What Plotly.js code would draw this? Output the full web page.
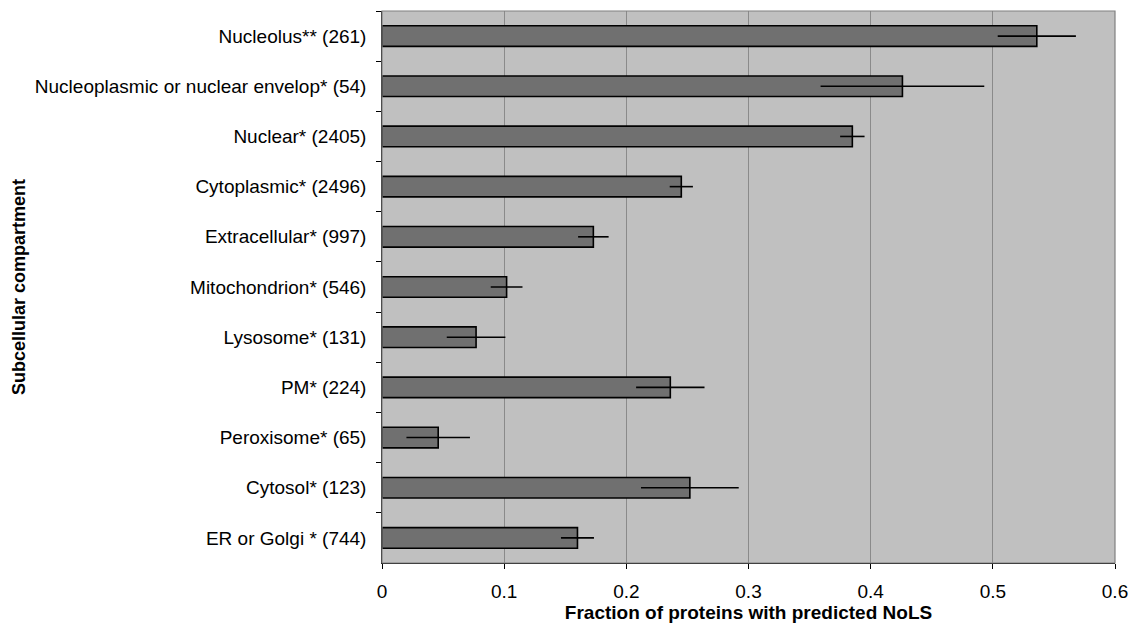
<!DOCTYPE html>
<html>
<head>
<meta charset="utf-8">
<script src="https://cdn.plot.ly/plotly-3.0.1.min.js"></script>
<style>html,body{margin:0;padding:0;background:#fff;}#chart{width:1131px;height:634px;}</style>
</head>
<body>
<div id="chart"></div>
<script>
const categories = [
  "Nucleolus** (261)",
  "Nucleoplasmic or nuclear envelop* (54)",
  "Nuclear* (2405)",
  "Cytoplasmic* (2496)",
  "Extracellular* (997)",
  "Mitochondrion* (546)",
  "Lysosome* (131)",
  "PM* (224)",
  "Peroxisome* (65)",
  "Cytosol* (123)",
  "ER or Golgi * (744)"
];
const fractions = [0.536, 0.426, 0.385, 0.245, 0.173, 0.102, 0.077, 0.236, 0.046, 0.252, 0.160];
const errors    = [0.032, 0.067, 0.010, 0.0095, 0.0125, 0.013, 0.024, 0.028, 0.026, 0.040, 0.0135];
const xTicks = [0, 0.1, 0.2, 0.3, 0.4, 0.5, 0.6];
const xTickLabels = ["0", "0.1", "0.2", "0.3", "0.4", "0.5", "0.6"];

const trace = {
  type: "bar",
  orientation: "h",
  x: fractions,
  y: categories,
  marker: {color: "#707070", line: {color: "#000000", width: 1.6}},
  error_x: {type: "data", array: errors, visible: true, color: "#000000", thickness: 1.6, width: 0},
  hoverinfo: "x+y"
};

const fontFam = "Liberation Sans, Arial, sans-serif";
const layout = {
  width: 1131, height: 634,
  margin: {l: 382, r: 16, t: 11, b: 71, pad: 0},
  paper_bgcolor: "#ffffff",
  plot_bgcolor: "#c0c0c0",
  bargap: 0.59,
  showlegend: false,
  font: {family: fontFam, size: 19, color: "#000000"},
  xaxis: {
    range: [0, 0.6],
    tickvals: xTicks,
    ticktext: xTickLabels,
    ticks: "outside", ticklen: 5, tickcolor: "#000000", tickwidth: 1,
    ticklabelstandoff: 6,
    showgrid: true, gridcolor: "#8a8a8a", gridwidth: 1,
    zeroline: false,
    showline: true, linecolor: "#000000", linewidth: 1.2,
    tickfont: {family: fontFam, size: 19, color: "#000000"},
    title: {text: "<b>Fraction of proteins with predicted NoLS</b>", font: {family: fontFam, size: 19, color: "#000000"}, standoff: 1},
    fixedrange: true
  },
  yaxis: {
    type: "category",
    autorange: "reversed",
    ticks: "outside", ticklen: 5, tickcolor: "#000000", tickwidth: 1,
    tickson: "boundaries",
    showgrid: false,
    zeroline: false,
    showline: true, linecolor: "#000000", linewidth: 1.2,
    ticksuffix: "  ",
    tickfont: {family: fontFam, size: 19, color: "#000000"},
    title: {text: "<b>Subcellular compartment</b>", font: {family: fontFam, size: 18, color: "#000000"}, standoff: 4},
    fixedrange: true
  },
  shapes: [{
    type: "rect", xref: "paper", yref: "paper", x0: 0, x1: 1, y0: 0, y1: 1,
    line: {color: "#808080", width: 1.2}, fillcolor: "rgba(0,0,0,0)", layer: "above"
  }]
};

Plotly.newPlot("chart", [trace], layout, {displayModeBar: false, staticPlot: true});
</script>
</body>
</html>
